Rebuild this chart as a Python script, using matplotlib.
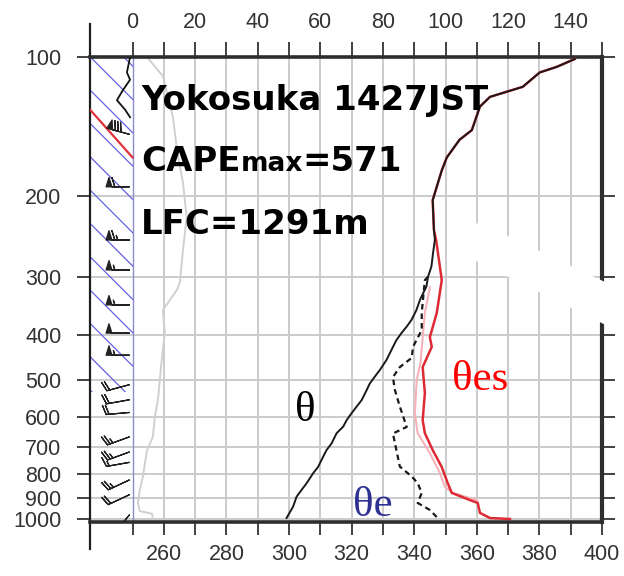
import numpy as np
import matplotlib
matplotlib.use("Agg")
import matplotlib.pyplot as plt
from matplotlib.ticker import FixedLocator, FixedFormatter, NullLocator
from matplotlib.patches import Polygon

# ---------------- sounding data (pressure in hPa, temperatures in K) -------------
# potential temperature θ
theta_p = [995, 940, 895, 865, 837, 796, 771, 733, 709, 686, 652, 631, 611, 590, 571,
           553, 526, 509, 492, 476, 453, 431, 410, 396, 384, 371, 353, 336, 325, 314,
           299, 284, 266, 249, 237, 204, 176, 165, 151, 144, 128, 122, 116, 108, 105, 101]
theta_k = [299.2, 301.3, 302.4, 304.0, 305.6, 307.7, 309.3, 310.9, 312.0, 313.6, 315.2,
           317.3, 318.4, 320.0, 321.6, 323.2, 324.8, 325.8, 327.4, 329.0, 331.1, 332.7,
           334.3, 335.9, 337.5, 339.1, 340.7, 341.8, 342.8, 343.9, 344.4, 345.5, 346.0,
           346.6, 346.3, 345.9, 348.8, 350.4, 354.5, 358.4, 361.0, 364.2, 374.7, 380.1,
           385.6, 391.3]

# saturated equivalent potential temperature θes
thetaes_p = [1000, 995, 970, 923, 910, 878, 836, 772, 709, 652, 611, 534, 469, 424, 404,
             358, 304, 249, 237, 204, 176, 165, 151, 144, 128, 122, 116, 108, 105, 101]
thetaes_k = [370.6, 364.2, 361.0, 360.3, 357.8, 352.0, 350.7, 348.8, 345.9, 343.4, 342.7,
             343.4, 342.7, 345.6, 345.0, 347.2, 348.8, 347.0, 346.3, 345.9, 348.8, 350.4,
             354.5, 358.4, 361.0, 364.2, 374.7, 380.1, 385.6, 391.3]

# θes of the preceding ascent (faint)
prev_p = [910, 878, 852, 795, 720, 652, 590, 500, 459, 358, 315]
prev_k = [360.0, 352.3, 349.8, 348.2, 345.0, 341.1, 340.2, 340.8, 342.0, 343.4, 345.0]

# equivalent potential temperature θe
thetae_p = [990, 955, 923, 878, 836, 809, 770, 720, 653, 632, 571, 525, 493, 469, 448,
            424, 390, 358, 304, 299]
thetae_k = [347.2, 344.9, 341.1, 342.4, 341.1, 339.2, 335.4, 334.5, 333.2, 337.6, 335.4,
            333.8, 333.2, 335.4, 339.2, 339.6, 342.4, 342.4, 343.4, 344.4]

# upper-axis quantity (0-140 scale)
upper_p = [999, 974, 961, 923, 866, 810, 710, 664, 602, 552, 500, 446, 396, 353, 319,
           308, 262, 222, 187, 159, 135, 110, 100]
upper_v = [6.5, 6.2, 2.3, 1.7, 2.3, 3.3, 4.6, 6.5, 7.1, 8.1, 8.7, 9.4, 10.3, 9.7, 14.2,
           15.1, 16.1, 17.3, 16.1, 14.2, 12.9, 9.7, 4.6]

# side panel traces
strip_p = [100, 108, 112, 118, 124, 130, 135]
strip_k = [249.2, 248.2, 249.2, 246.9, 245.0, 247.6, 249.2]
trop_p = [130, 165]
trop_k = [236.4, 250.0]

# winds: pressure (hPa), speed (kt), direction (deg)
wind_p = [147, 191, 249, 289, 344, 396, 442, 512, 552, 588, 664, 716, 754, 823, 886, 980]
wind_spd = [80, 60, 65, 55, 55, 50, 55, 20, 20, 20, 25, 25, 15, 25, 20, 10]
wind_dir = [285, 270, 270, 270, 270, 270, 270, 255, 260, 265, 250, 250, 260, 245, 245, 220]

# axes labelling
p_ticks = [100, 200, 300, 400, 500, 600, 700, 800, 900, 1000]
p_labels = [str(v) for v in p_ticks]
bottom_major = list(range(260, 401, 20))
bottom_minor = list(range(250, 400, 20))
top_major = list(range(0, 141, 20))
top_minor = list(range(10, 151, 20))

header_lines = ["Yokosuka 1427JST", "LFC=1291m"]
cape_parts = ["CAPE", "max", "=571"]

# ---------------------------------------------------------------------------------
W, H = 624, 576
fig = plt.figure(figsize=(W / 100, H / 100), dpi=100)
fig.patch.set_facecolor("white")
plt.rcParams["hatch.linewidth"] = 0.9

L, R, T, B = 90, 602, 57, 522
ax = fig.add_axes([L / W, 1 - B / H, (R - L) / W, (B - T) / H])
ax.set_yscale("log")
ax.set_xlim(236.4, 400)
ax.set_ylim(1015, 100)

tick_family = ["Liberation Sans", "DejaVu Sans"]
tick_size = 15.5

ax.yaxis.set_major_locator(FixedLocator(p_ticks))
ax.yaxis.set_major_formatter(FixedFormatter(p_labels))
ax.yaxis.set_minor_locator(NullLocator())
ax.tick_params(axis="y", which="major", direction="out", length=9.5, width=1.3,
               left=True, right=True, pad=11, colors="#333333")
for lab in ax.get_yticklabels():
    lab.set_fontfamily(tick_family)
    lab.set_fontsize(tick_size)

ax.xaxis.set_major_locator(FixedLocator(bottom_major))
ax.xaxis.set_minor_locator(FixedLocator(bottom_minor))
ax.xaxis.set_major_formatter(FixedFormatter([str(v) for v in bottom_major]))
ax.tick_params(axis="x", which="both", direction="out", length=9, width=1.3,
               bottom=True, top=False, pad=7, colors="#333333")
for lab in ax.get_xticklabels():
    lab.set_fontfamily(tick_family)
    lab.set_fontsize(tick_size)

to_top = (lambda x: x - 250, lambda v: v + 250)
sec = ax.secondary_xaxis("top", functions=to_top)
sec.xaxis.set_major_locator(FixedLocator(top_major))
sec.xaxis.set_minor_locator(FixedLocator(top_minor))
sec.xaxis.set_major_formatter(FixedFormatter([str(v) for v in top_major]))
sec.tick_params(axis="x", which="both", direction="out", length=11, width=1.3,
                pad=6, colors="#333333")
sec.spines["top"].set_visible(False)
for lab in sec.get_xticklabels():
    lab.set_fontfamily(tick_family)
    lab.set_fontsize(tick_size)

# frame
for side in ("top", "bottom"):
    ax.spines[side].set_linewidth(2.6)
    ax.spines[side].set_color("#2e2e2e")
ax.spines["right"].set_linewidth(3.0)
ax.spines["right"].set_color("#2e2e2e")
ax.spines["left"].set_linewidth(1.6)
ax.spines["left"].set_color("#1f1f1f")
ax.spines["left"].set_bounds(1160, 85)

# grid
for p in p_ticks[1:]:
    ax.axhline(p, color="#cbcbcb", lw=1.4, zorder=0.5)
for x in range(260, 400, 10):
    ax.axvline(x, color="#cbcbcb", lw=1.4, zorder=0.5)
ax.axvline(250, color="#8c8cc8", lw=1.0, zorder=1)

# hatched layer in the side panel
ax.fill_betweenx([100, 530], 236.4, 250, facecolor="none", edgecolor="#6262e4",
                 hatch="\\", linewidth=0, zorder=1)

# side panel traces and wind barbs
ax.plot(strip_k, strip_p, color="#111111", lw=1.3, zorder=3)
ax.plot(trop_k, trop_p, color="#e0303a", lw=1.6, zorder=3)
wd = np.deg2rad(wind_dir)
u = -np.array(wind_spd) * np.sin(wd)
v = -np.array(wind_spd) * np.cos(wd)
ax.barbs(np.full(len(wind_p), 249.0), wind_p, u, v, length=5.8, linewidth=0.9,
         color="#222222", zorder=4)

# profiles
ax.plot(np.array(upper_v) + 250, upper_p, color="#d0d0d0", lw=1.4, zorder=2)
ax.plot(prev_k, prev_p, color="#f5b3b9", lw=1.5, zorder=2)
ax.plot(thetaes_k, thetaes_p, color="#dd2a35", lw=1.8, zorder=3)
ax.plot(thetae_k, thetae_p, color="#1a1a1a", lw=1.6, ls=(0, (2.5, 1.8)), zorder=3)
ax.plot(theta_k, theta_p, color="#1a1a1a", lw=1.4, zorder=4)

# curve labels
serif = ["Liberation Serif", "DejaVu Serif"]
ax.text(301.9, 614, "θ", color="black", fontsize=31, family=serif, va="baseline", zorder=6)
ax.text(352.0, 525, "θes", color="#ff0000", fontsize=31, family=serif, va="baseline", zorder=6)
ax.text(320.4, 985, "θe", color="#2e3192", fontsize=31, family=serif, va="baseline", zorder=6)

# header text
bold = dict(family=["DejaVu Sans"], weight="bold", color="black", zorder=7)
x0 = (141 - L) / (R - L)
ax.text(x0, (B - 110) / (B - T), header_lines[0], transform=ax.transAxes,
        fontsize=24.5, va="baseline", ha="left", **bold)
ax.text(x0, (B - 234) / (B - T), header_lines[1], transform=ax.transAxes,
        fontsize=24.5, va="baseline", ha="left", **bold)
y_cape = (B - 171) / (B - T)
t_cape = ax.text(x0, y_cape, cape_parts[0], transform=ax.transAxes,
                 fontsize=24.5, va="baseline", ha="left", **bold)
fig.canvas.draw()
x1 = ax.transAxes.inverted().transform(t_cape.get_window_extent().p1)[0]
t_max = ax.text(x1, y_cape, cape_parts[1], transform=ax.transAxes,
                fontsize=19, va="baseline", ha="left", **bold)
fig.canvas.draw()
x2 = ax.transAxes.inverted().transform(t_max.get_window_extent().p1)[0]
ax.text(x2, y_cape, cape_parts[2], transform=ax.transAxes,
        fontsize=24.5, va="baseline", ha="left", **bold)

# white overlay band at the right edge
band = [(466, 240), (478, 222), (624, 291), (624, 334), (470, 258)]
fig.patches.append(Polygon([(px / W, 1 - py / H) for px, py in band], closed=True,
                           transform=fig.transFigure, facecolor="white",
                           edgecolor="none", zorder=10))

fig.savefig("out.png", dpi=100)
